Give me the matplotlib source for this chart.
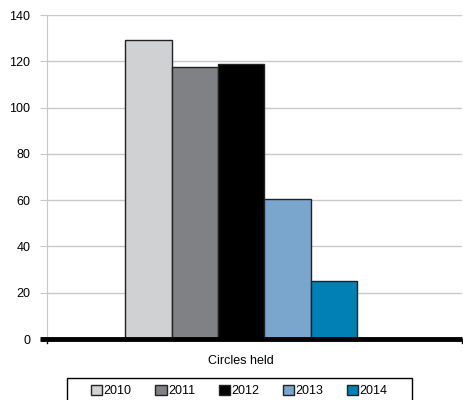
import matplotlib.pyplot as plt
import numpy as np

plt.rcParams['font.family'] = ['Liberation Sans', 'DejaVu Sans']

years = ['2010', '2011', '2012', '2013', '2014']
circles_held = [129, 117.5, 119, 60.5, 25]
colors = ['#d0d1d3', '#808184', '#000000', '#7aa6cd', '#0080b4']

fig = plt.figure(figsize=(4.64, 4.0), dpi=100)
ax = fig.add_axes([47/464, 61/400, 415/464, 324/400])

x = np.arange(len(years))
bars = ax.bar(x, circles_held, width=1.0, color=colors, edgecolor='#222222',
              linewidth=1.0, label=years, zorder=3)

ax.set_ylim(0, 140)
ax.set_xlim(-2.18, 6.75)
ax.set_yticks(np.arange(0, 141, 20))
ax.set_xticks([])
ax.yaxis.grid(True, color='#c8c8c8', linewidth=1.0, zorder=0)
ax.tick_params(axis='y', length=5, color='#c8c8c8', labelsize=9, pad=7)

for s in ['top', 'right', 'bottom']:
    ax.spines[s].set_visible(False)
ax.spines['left'].set_color('#c8c8c8')

# thick category axis, running a little past the value axis
ax.plot([-2.33, 6.75], [0, 0], color='black', lw=3.5, clip_on=False,
        solid_capstyle='butt', zorder=4)
ax.plot([-2.18, -2.18], [0, -1.6], color='black', lw=1, clip_on=False)
ax.plot([6.75, 6.75], [0, -1.6], color='black', lw=1, clip_on=False)

fig.text(0.52, 0.097, 'Circles held', ha='center', va='center', fontsize=9)

handles = [plt.Rectangle((0, 0), 1, 1, facecolor=c, edgecolor='#222222', lw=1)
           for c in colors]
leg = fig.legend(handles, years, loc='center', bbox_to_anchor=(0.516, 0.0225),
                 ncol=5, fontsize=9, frameon=False,
                 handlelength=0.9, handleheight=0.9,
                 handletextpad=0.1, columnspacing=1.9, borderpad=0.35,
                 borderaxespad=0)

# legend box
fig.patches.append(plt.Rectangle((67/464, -0.01), 345/464, 22.5/400 + 0.01,
                                 transform=fig.transFigure, fill=False,
                                 edgecolor='black', lw=1.0))

fig.savefig('out.png', dpi=100)
